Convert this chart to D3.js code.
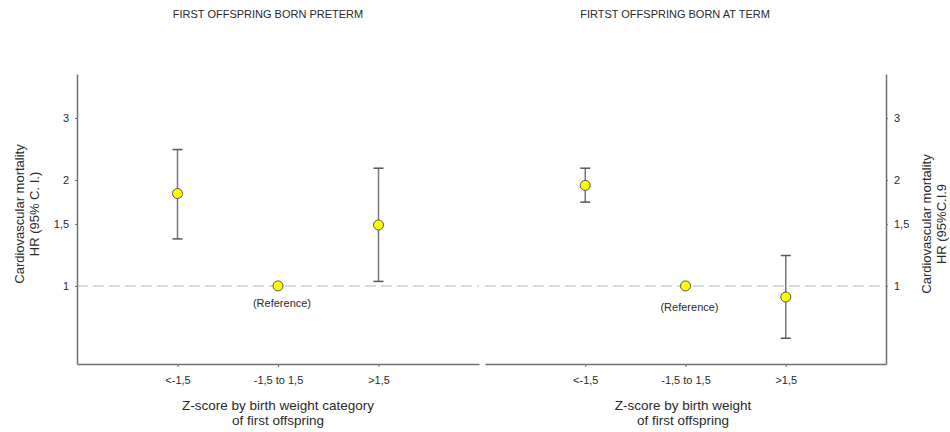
<!DOCTYPE html>
<html>
<head>
<meta charset="utf-8">
<script src="https://cdn.jsdelivr.net/npm/d3@7"></script>
<style>
  body { margin: 0; background: #fff; }
  text { font-family: "Liberation Sans", Arial, sans-serif; fill: #2a2a2a; }
</style>
</head>
<body>
<script>
// Data (hazard ratios, log scale)
const categories = ["<-1,5", "-1,5 to 1,5", ">1,5"];
const pretermHR   = [1.83, 1.00, 1.49];
const pretermLow  = [1.36, null, 1.03];
const pretermHigh = [2.44, null, 2.16];
const termHR   = [1.93, 1.00, 0.93];
const termLow  = [1.73, null, 0.71];
const termHigh = [2.16, null, 1.22];
const yTicks = [1, 1.5, 2, 3];

const width = 950, height = 432;
const plotTop = 74, plotBottom = 364;

const svg = d3.select("body").append("svg")
  .attr("width", width)
  .attr("height", height);

// shared log scale for hazard ratios
const y = d3.scaleLog().domain([0.6, 4]).range([plotBottom, plotTop]);

function panel(opts) {
  const x = d3.scaleLinear().domain([0, 4]).range([opts.x0, opts.x1]);
  const g = svg.append("g");

  // reference line at HR = 1
  g.append("line")
    .attr("x1", opts.x0).attr("x2", opts.x1)
    .attr("y1", y(1)).attr("y2", y(1))
    .attr("stroke", "#cfcfcf")
    .attr("stroke-width", 1.5)
    .attr("stroke-dasharray", "11,5");

  // x axis
  const xAxis = g.append("g")
    .attr("transform", `translate(0,${plotBottom})`)
    .call(d3.axisBottom(x)
      .tickValues([1, 2, 3])
      .tickFormat((d, i) => categories[i])
      .tickSizeInner(3).tickSizeOuter(0)
      .tickPadding(9));
  xAxis.selectAll("text").attr("font-size", 11).attr("fill", "#2a2a2a");

  // y axis, left or right
  const axisGen = opts.side === "left" ? d3.axisLeft(y) : d3.axisRight(y);
  const yAxis = g.append("g")
    .attr("transform", `translate(${opts.side === "left" ? opts.x0 : opts.x1},0)`)
    .call(axisGen
      .tickValues(yTicks)
      .tickFormat(d => String(d).replace(".", ","))
      .tickSizeInner(2).tickSizeOuter(0)
      .tickPadding(6));
  yAxis.selectAll("text").attr("font-size", 11).attr("fill", "#2a2a2a");

  [xAxis, yAxis].forEach(a => {
    a.select(".domain").attr("stroke", "#707070").attr("stroke-width", 1.5);
    a.selectAll(".tick line").attr("stroke", "#707070");
  });

  // error bars
  const idx = d3.range(categories.length).filter(i => opts.low[i] != null);
  const capW = 5;
  g.selectAll(".ci").data(idx).join("line")
    .attr("x1", i => x(i + 1)).attr("x2", i => x(i + 1))
    .attr("y1", i => y(opts.low[i])).attr("y2", i => y(opts.high[i]))
    .attr("stroke", "#777").attr("stroke-width", 1.5);
  ["low", "high"].forEach(k => {
    g.selectAll(".cap-" + k).data(idx).join("line")
      .attr("x1", i => x(i + 1) - capW).attr("x2", i => x(i + 1) + capW)
      .attr("y1", i => y(opts[k][i])).attr("y2", i => y(opts[k][i]))
      .attr("stroke", "#555").attr("stroke-width", 1.5);
  });

  // points
  g.selectAll("circle").data(opts.hr).join("circle")
    .attr("cx", (d, i) => x(i + 1))
    .attr("cy", d => y(d))
    .attr("r", 5)
    .attr("fill", "#ffff00")
    .attr("stroke", "#555")
    .attr("stroke-width", 1);

  g.append("text")
    .attr("x", x(2) + 4).attr("y", y(1) + opts.refDy)
    .attr("text-anchor", "middle")
    .attr("font-size", 11)
    .text("(Reference)");

  // title
  svg.append("text")
    .attr("x", opts.titleX).attr("y", 18)
    .attr("text-anchor", "middle")
    .attr("font-size", 11)
    .text(opts.title);

  // x axis title
  const xt = svg.append("text")
    .attr("text-anchor", "middle")
    .attr("font-size", 13.5);
  opts.xTitle.forEach((line, i) => {
    xt.append("tspan").attr("x", opts.xTitleX).attr("y", 410 + i * 15).text(line);
  });

  // y axis title, rotated
  const yt = svg.append("text")
    .attr("transform", `translate(${opts.yTitleX},${opts.yTitleY}) rotate(-90)`)
    .attr("text-anchor", "middle")
    .attr("font-size", 13);
  opts.yTitle.forEach((line, i) => {
    yt.append("tspan").attr("x", 0).attr("dy", i === 0 ? 0 : 15).text(line);
  });
}

panel({
  x0: 77, x1: 479, side: "left",
  hr: pretermHR, low: pretermLow, high: pretermHigh,
  title: "FIRST OFFSPRING BORN PRETERM", titleX: 268,
  xTitle: ["Z-score by birth weight category", "of first offspring"], xTitleX: 278,
  yTitle: ["Cardiovascular mortality", "HR (95% C. I.)"], yTitleX: 24, yTitleY: 214,
  refDy: 21
});

panel({
  x0: 485, x1: 886, side: "right",
  hr: termHR, low: termLow, high: termHigh,
  title: "FIRTST OFFSPRING BORN AT TERM", titleX: 675,
  xTitle: ["Z-score by birth weight", "of first offspring"], xTitleX: 683,
  yTitle: ["Cardiovascular mortality", "HR (95%C.I.9"], yTitleX: 931, yTitleY: 224,
  refDy: 25
});
</script>
</body>
</html>
